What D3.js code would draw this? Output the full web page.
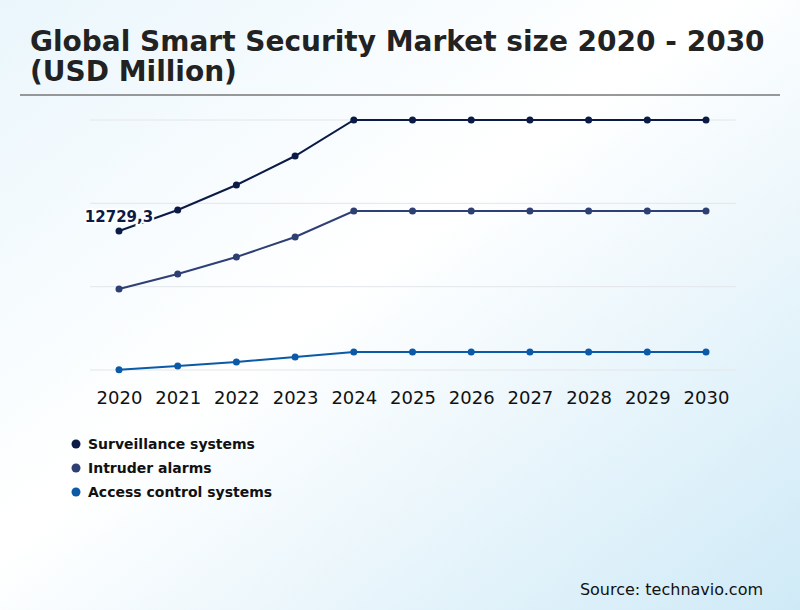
<!DOCTYPE html>
<html><head><meta charset="utf-8">
<script src="https://cdn.jsdelivr.net/npm/d3@7"></script>
<style>body{margin:0}svg{display:block;font-family:"DejaVu Sans",sans-serif}</style>
</head><body><svg id="c" width="800" height="610"></svg>
<script>
const years = [2020,2021,2022,2023,2024,2025,2026,2027,2028,2029,2030];
const surveillance = [12729.3,14656,16946,19602,22900,22900,22900,22900,22900,22900,22900];
const intruder = [7420,8794,10351,12183,14564,14564,14564,14564,14564,14564,14564];
const access = [30,366,733,1191,1649,1649,1649,1649,1649,1649,1649];
const seriesNames = ["Surveillance systems","Intruder alarms","Access control systems"];
const colors = ["#0b1b45","#2e3f74","#0a5aa8"];
const gridVals = [0,7633,15267,22900];

const svg = d3.select("#c");
const defs = svg.append("defs");
const g = defs.append("linearGradient").attr("id","bg").attr("x1","0").attr("y1","0").attr("x2","1").attr("y2","1");
g.append("stop").attr("offset","0").attr("stop-color","#eaf6fc");
g.append("stop").attr("offset","0.45").attr("stop-color","#ffffff");
g.append("stop").attr("offset","1").attr("stop-color","#cfeaf7");
svg.append("rect").attr("width",800).attr("height",610).attr("fill","url(#bg)");

svg.append("text").attr("x",30).attr("y",51).attr("font-size",28).attr("font-weight","bold").attr("fill","#222")
  .text("Global Smart Security Market size 2020 - 2030");
svg.append("text").attr("x",30).attr("y",81).attr("font-size",28).attr("font-weight","bold").attr("fill","#222")
  .text("(USD Million)");
svg.append("line").attr("x1",20).attr("x2",780).attr("y1",95).attr("y2",95).attr("stroke","#777").attr("stroke-width",1.5);

const x = d3.scalePoint().domain(years).range([119,706]);
const y = d3.scaleLinear().domain([0,22900]).range([370,120]);

svg.append("g").selectAll("line").data(gridVals).join("line")
  .attr("x1",90).attr("x2",736).attr("y1",d=>y(d)).attr("y2",d=>y(d))
  .attr("stroke","#e3e6ea").attr("stroke-width",1);

const xAxis = svg.append("g").attr("transform","translate(0,386)")
  .call(d3.axisBottom(x).tickSize(0).tickPadding(5));
xAxis.select(".domain").remove();
xAxis.selectAll("text").attr("font-size",18).attr("fill","#111").attr("font-family","DejaVu Sans");

const line = d3.line().x((d,i)=>x(years[i])).y(d=>y(d));
[surveillance,intruder,access].forEach((s,k)=>{
  svg.append("path").datum(s).attr("d",line).attr("fill","none").attr("stroke",colors[k]).attr("stroke-width",2);
  svg.append("g").selectAll("circle").data(s).join("circle")
    .attr("cx",(d,i)=>x(years[i])).attr("cy",d=>y(d)).attr("r",3.5).attr("fill",colors[k]);
});

svg.append("text").attr("x",x(2020)).attr("y",y(surveillance[0])-9).attr("text-anchor","middle")
  .attr("font-size",15).attr("font-weight","bold").attr("fill","#0b1b45")
  .attr("stroke","#fff").attr("stroke-width",4).attr("paint-order","stroke")
  .text(String(surveillance[0]).replace(".",","));

const lg = svg.append("g").selectAll("g").data(seriesNames).join("g")
  .attr("transform",(d,i)=>`translate(76,${444+i*24})`);
lg.append("circle").attr("r",4.5).attr("fill",(d,i)=>colors[i]);
lg.append("text").attr("x",12).attr("dy","0.35em").attr("font-size",14).attr("font-weight","bold").attr("fill","#111").text(d=>d);

svg.append("text").attr("x",763).attr("y",595).attr("text-anchor","end").attr("font-size",16).attr("fill","#111").text("Source: technavio.com");
</script></body></html>
